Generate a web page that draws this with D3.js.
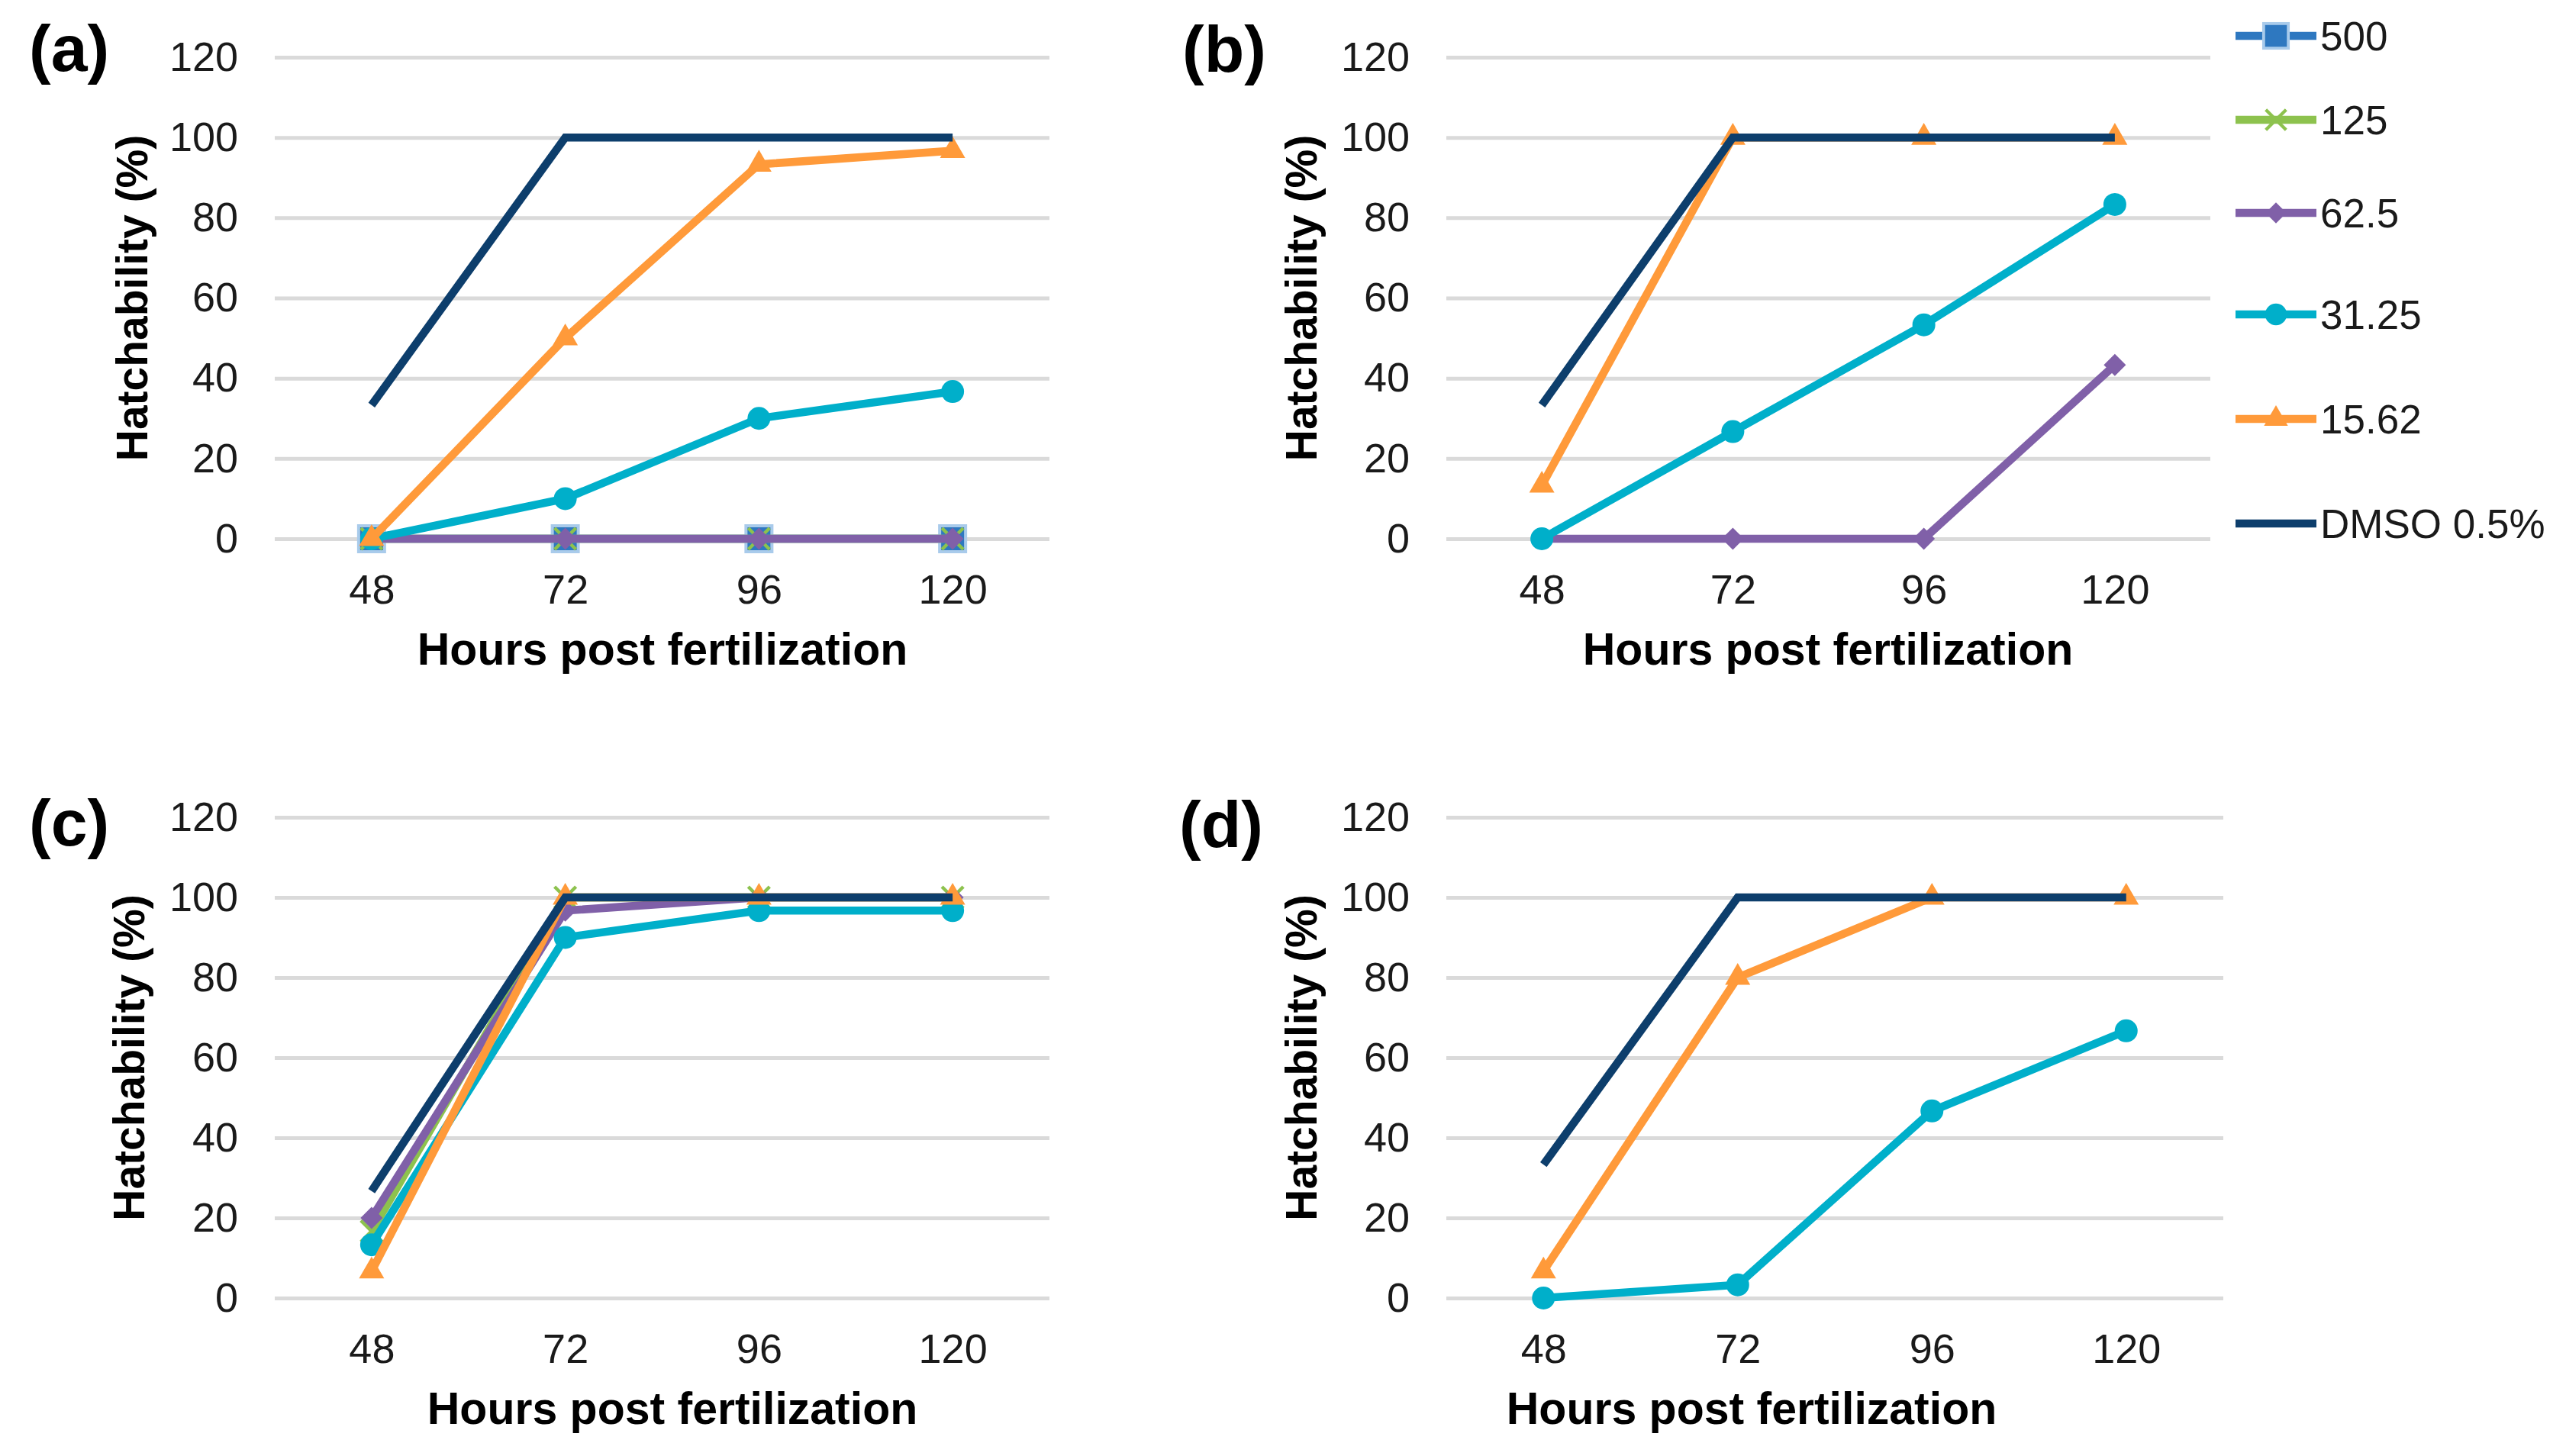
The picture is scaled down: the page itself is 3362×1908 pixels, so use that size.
<!DOCTYPE html>
<html>
<head>
<meta charset="utf-8">
<script src="https://cdn.jsdelivr.net/npm/d3@7"></script>
<style>
  html, body { margin: 0; padding: 0; background: #ffffff; }
  svg { display: block; font-family: "Liberation Sans", Arial, Helvetica, sans-serif; }
</style>
</head>
<body>
<svg id="chart" width="3362" height="1908"></svg>
<script>
// ---------------- DATA ----------------
const hours = [48, 72, 96, 120];
const yTicks = [0, 20, 40, 60, 80, 100, 120];
const seriesNames = ["500", "125", "62.5", "31.25", "15.62", "DMSO 0.5%"];

// Panel (a)
const a500  = [0, 0, 0, 0];
const a125  = [0, 0, 0, 0];
const a625  = [0, 0, 0, 0];
const a3125 = [0, 10, 30, 36.7];
const a1562 = [0, 50, 93.3, 96.7];
const aDMSO = [33.3, 100, 100, 100];

// Panel (b)
const b625  = [0, 0, 0, 43.3];
const b3125 = [0, 26.7, 53.3, 83.3];
const b1562 = [13.3, 100, 100, 100];
const bDMSO = [33.3, 100, 100, 100];

// Panel (c)
const c125  = [16.7, 100, 100, 100];
const c625  = [20, 96.7, 100, 100];
const c3125 = [13.3, 90, 96.7, 96.7];
const c1562 = [6.7, 100, 100, 100];
const cDMSO = [26.7, 100, 100, 100];

// Panel (d)
const d3125 = [0, 3.3, 46.7, 66.7];
const d1562 = [6.7, 80, 100, 100];
const dDMSO = [33.3, 100, 100, 100];

const panelLabels = ["(a)", "(b)", "(c)", "(d)"];
const xTitle = "Hours post fertilization";
const yTitle = "Hatchability (%)";

// series values per panel, in series order (null = not plotted)
const panelSeries = [
  [a500, a125, a625, a3125, a1562, aDMSO],
  [null, null, b625, b3125, b1562, bDMSO],
  [null, c125, c625, c3125, c1562, cDMSO],
  [null, null, null, d3125, d1562, dDMSO]
];

// ---------------- STYLE / LAYOUT ----------------
const colors = ["#2E78C0", "#8DC24E", "#8060A8", "#00AFCA", "#FF9A3A", "#0D3E6C"];
const markers = ["square", "x", "diamond", "circle", "triangle", null];

const layout = [
  { left: 360,  right: 1375, top: 75,   bottom: 706,  labX: 38,   labY: 93,   xtX: 868,  ytX: 193  },
  { left: 1895, right: 2896, top: 75,   bottom: 706,  labX: 1549, labY: 94,   xtX: 2395, ytX: 1725 },
  { left: 360,  right: 1375, top: 1071, bottom: 1701, labX: 38,   labY: 1108, xtX: 881,  ytX: 189  },
  { left: 1895, right: 2913, top: 1071, bottom: 1701, labX: 1545, labY: 1110, xtX: 2295, ytX: 1725 }
];
const legendRows = [47, 157, 279, 412, 549, 686];
const legendX0 = 2929, legendX1 = 3035, legendTextX = 3040;

const svg = d3.select("#chart");

function drawMarker(g, type, cx, cy, color, scale) {
  const s = scale || 1;
  if (type === "square") {
    const w = 34 * s;
    g.append("rect").attr("x", cx - w / 2).attr("y", cy - w / 2).attr("width", w).attr("height", w)
      .attr("fill", color).attr("stroke", "#A9CBEB").attr("stroke-width", 4 * s);
  } else if (type === "x") {
    const h = 14 * s;
    g.append("path").attr("d", `M${cx - h},${cy - h}L${cx + h},${cy + h}M${cx - h},${cy + h}L${cx + h},${cy - h}`)
      .attr("stroke", color).attr("stroke-width", 4.5 * s).attr("fill", "none");
  } else if (type === "diamond") {
    const h = 14.5 * s;
    g.append("path").attr("d", `M${cx},${cy - h}L${cx + h},${cy}L${cx},${cy + h}L${cx - h},${cy}Z`)
      .attr("fill", color);
  } else if (type === "circle") {
    g.append("circle").attr("cx", cx).attr("cy", cy).attr("r", 15 * s).attr("fill", color);
  } else if (type === "triangle") {
    const side = 33 * s, hgt = side * Math.sqrt(3) / 2;
    g.append("path").attr("d", `M${cx},${cy - hgt * 2 / 3}L${cx + side / 2},${cy + hgt / 3}L${cx - side / 2},${cy + hgt / 3}Z`)
      .attr("fill", color);
  }
}

layout.forEach((L, pi) => {
  const x = d3.scalePoint().domain(hours).range([L.left, L.right]).padding(0.5);
  const y = d3.scaleLinear().domain([0, 120]).range([L.bottom, L.top]);
  const g = svg.append("g");

  // Y axis with gridlines
  const yAxis = d3.axisLeft(y).tickValues(yTicks).tickSize(-(L.right - L.left)).tickPadding(48);
  const ya = g.append("g").attr("transform", `translate(${L.left},0)`).call(yAxis);
  ya.select(".domain").remove();
  ya.selectAll(".tick line").attr("stroke", "#DADADA").attr("stroke-width", 5);
  ya.selectAll(".tick text").attr("font-size", 54).attr("fill", "#1a1a1a")
    .attr("font-family", "'Liberation Sans', Arial, sans-serif");

  // X axis
  const xAxis = d3.axisBottom(x).tickSize(0).tickPadding(47);
  const xa = g.append("g").attr("transform", `translate(0,${L.bottom})`).call(xAxis);
  xa.select(".domain").remove();
  xa.selectAll(".tick text").attr("font-size", 54).attr("fill", "#1a1a1a")
    .attr("font-family", "'Liberation Sans', Arial, sans-serif");

  // Titles
  g.append("text").attr("x", L.xtX).attr("y", L.bottom + 165).attr("text-anchor", "middle")
    .attr("font-size", 59).attr("font-weight", "bold").attr("fill", "#000").text(xTitle);
  g.append("text").attr("transform", `translate(${L.ytX},${(L.top + L.bottom) / 2}) rotate(-90)`)
    .attr("text-anchor", "middle").attr("font-size", 57).attr("font-weight", "bold").attr("fill", "#000").text(yTitle);

  // Panel label
  g.append("text").attr("x", L.labX).attr("y", L.labY).attr("font-size", 86).attr("font-weight", "bold")
    .attr("fill", "#000").text(panelLabels[pi]);

  // Series
  const line = d3.line().x((d, i) => x(hours[i])).y(d => y(d));
  panelSeries[pi].forEach((vals, si) => {
    if (!vals) return;
    const sg = g.append("g");
    sg.append("path").attr("d", line(vals)).attr("fill", "none").attr("stroke", colors[si])
      .attr("stroke-width", 10.5).attr("stroke-linejoin", "miter").attr("stroke-linecap", "butt");
    if (markers[si]) {
      vals.forEach((v, i) => drawMarker(sg, markers[si], x(hours[i]), y(v), colors[si], 1));
    }
  });
});

// Legend
const lg = svg.append("g");
seriesNames.forEach((name, si) => {
  const cy = legendRows[si];
  lg.append("line").attr("x1", legendX0).attr("x2", legendX1).attr("y1", cy).attr("y2", cy)
    .attr("stroke", colors[si]).attr("stroke-width", 10.5);
  if (markers[si]) drawMarker(lg, markers[si], (legendX0 + legendX1) / 2, cy, colors[si], 0.95);
  lg.append("text").attr("x", legendTextX).attr("y", cy + 19).attr("font-size", 53).attr("fill", "#1a1a1a").text(name);
});
</script>
</body>
</html>
